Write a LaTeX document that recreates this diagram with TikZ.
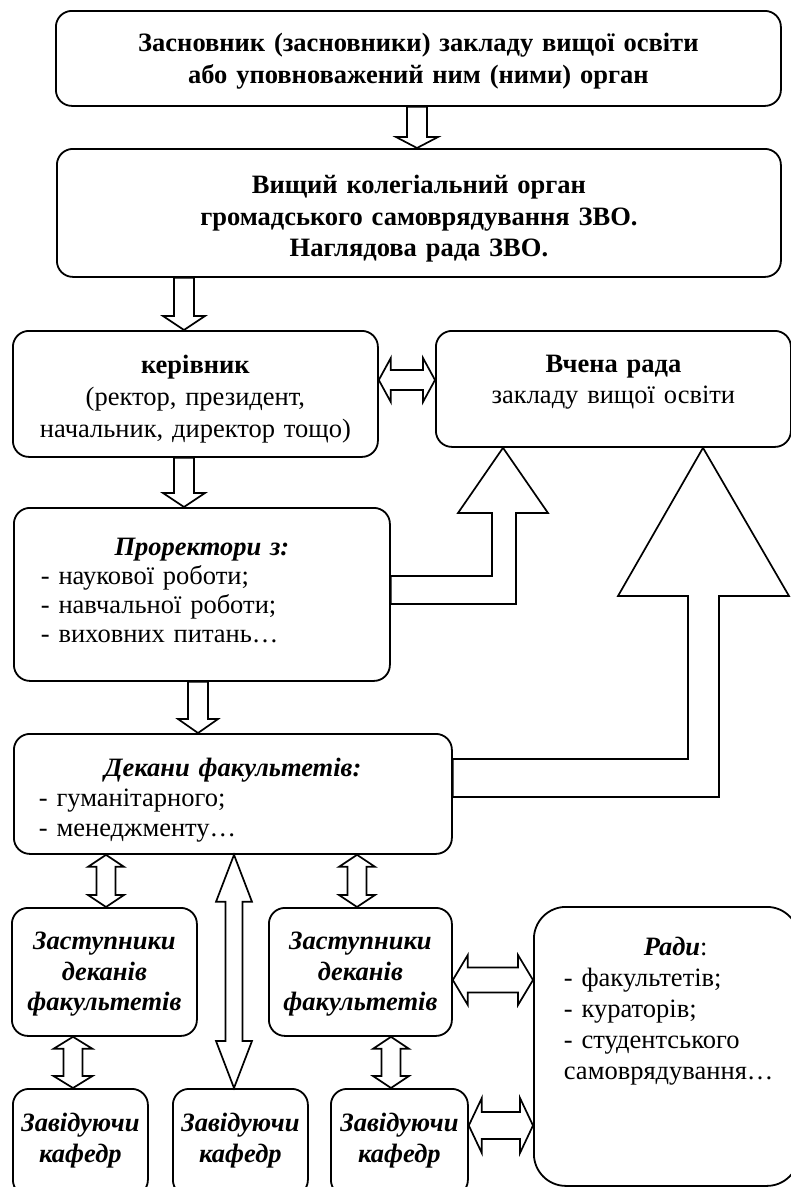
\documentclass[tikz,border=0pt]{standalone}
\usepackage{fontspec}
\setmainfont{Liberation Serif}
\usepackage{tikz}
\usetikzlibrary{calc}

% hollow block arrows: x or y, from, to, shaft half, head half, head length
\newcommand{\blockdown}[6]{%
  \draw[blk] let \p1=(#2.south), \p2=(#3.north) in
    (#1-#4,\y1) -- (#1+#4,\y1) -- (#1+#4,\y2+#6) -- (#1+#5,\y2+#6)
    -- (#1,\y2) -- (#1-#5,\y2+#6) -- (#1-#4,\y2+#6) -- cycle;}
\newcommand{\blockvv}[6]{%
  \draw[blk] let \p1=(#2.south), \p2=(#3.north) in
    (#1,\y1) -- (#1+#5,\y1-#6) -- (#1+#4,\y1-#6) -- (#1+#4,\y2+#6)
    -- (#1+#5,\y2+#6) -- (#1,\y2) -- (#1-#5,\y2+#6) -- (#1-#4,\y2+#6)
    -- (#1-#4,\y1-#6) -- (#1-#5,\y1-#6) -- cycle;}
\newcommand{\blockhh}[6]{%
  \draw[blk] let \p1=(#2.east), \p2=(#3.west) in
    (\x1,#1) -- (\x1+#6,#1+#5) -- (\x1+#6,#1+#4) -- (\x2-#6,#1+#4)
    -- (\x2-#6,#1+#5) -- (\x2,#1) -- (\x2-#6,#1-#5) -- (\x2-#6,#1-#4)
    -- (\x1+#6,#1-#4) -- (\x1+#6,#1-#5) -- cycle;}

\begin{document}
\begin{tikzpicture}[x=1pt,y=1pt,font=\fontsize{26.5}{31}\selectfont,
    box/.style={draw,rounded corners=16pt,line width=1.8pt,inner sep=0pt,
                align=center,anchor=north west},
    blk/.style={draw,fill=white,line width=1.7pt,line join=miter},
    bi/.style={font=\fontsize{26.5}{30.5}\selectfont\bfseries\itshape}]
  \useasboundingbox (0,0) rectangle (791,-1187);
  \clip (0,0) rectangle (791,-1187);

  \node[box,text width=725pt,text height=41pt,text depth=54pt,
        font=\fontsize{26.5}{32}\selectfont\bfseries]
    (founder) at (55,-10)
    {Засновник (засновники) закладу вищої освіти\\або уповноважений ним (ними) орган};
  \node[box,text width=724pt,text height=45pt,text depth=83pt,
        font=\fontsize{26.5}{31.5}\selectfont\bfseries]
    (council) at (56,-148)
    {Вищий колегіальний орган\\громадського самоврядування ЗВО.\\Наглядова рада ЗВО.};
  \node[box,text width=365pt,text height=43pt,text depth=83pt,
        font=\fontsize{26.5}{32}\selectfont]
    (head) at (12,-330)
    {\textbf{керівник}\\(ректор, президент,\\начальник, директор тощо)};
  \node[box,text width=355pt,text height=42pt,text depth=74pt]
    (senate) at (435,-330) {\textbf{Вчена рада}\\закладу вищої освіти};
  \node[box,align=left,text width=322pt,inner xsep=27pt,
        text height=48pt,text depth=125pt,font=\fontsize{26.5}{29}\selectfont]
    (vice) at (13,-507)
    {\makebox[\linewidth]{\textbf{\textit{Проректори з:}}}\\- наукової роботи;\\
     - навчальної роботи;\\- виховних питань…};
  \node[box,align=left,text width=388pt,inner xsep=25pt,
        text height=43pt,text depth=77pt,font=\fontsize{26.5}{30}\selectfont]
    (deans) at (13,-733)
    {\makebox[\linewidth]{\textbf{\textit{Декани факультетів:}}}\\- гуманітарного;\\- менеджменту…};

  \node[box,bi,text width=185pt,text height=42pt,text depth=86pt]
    (dep1) at (11,-907) {Заступники\\деканів\\факультетів};
  \node[box,bi,text width=183pt,text height=42pt,text depth=86pt]
    (dep2) at (268,-907) {Заступники\\деканів\\факультетів};
  \node[box,align=left,rounded corners=32pt,text width=205pt,inner xsep=30pt,
        text height=49pt,text depth=230pt]
    (rady) at (533,-906)
    {\hspace*{80pt}\textbf{\textit{Ради}}:\\- факультетів;\\- кураторів;\\- студентського\\самоврядування…};

  \node[box,bi,text width=135pt,text height=43pt,text depth=64pt]
    (chair1) at (12,-1088) {Завідуючи\\кафедр};
  \node[box,bi,text width=135pt,text height=43pt,text depth=64pt]
    (chair2) at (172,-1088) {Завідуючи\\кафедр};
  \node[box,bi,text width=137pt,text height=43pt,text depth=64pt]
    (chair3) at (330,-1088) {Завідуючи\\кафедр};

  % arrows down the chain
  \blockdown{417}{founder}{council}{10}{21}{11}
  \blockdown{184}{council}{head}{10}{21}{14}
  \blockdown{184}{head}{vice}{10}{21}{14}
  \blockdown{198}{vice}{deans}{10}{20}{14}
  \blockhh{-380}{head}{senate}{10}{22}{12}

  % bent arrows into the senate
  \draw[blk] let \p1=(vice.east), \p2=(senate.south) in
    (\x1,-576) -- (492,-576) -- (492,-513) -- (458,-513) -- (503,\y2)
    -- (548,-513) -- (516,-513) -- (516,-604) -- (\x1,-604) -- cycle;
  \draw[blk] let \p1=(deans.east), \p2=(senate.south) in
    (\x1,-759) -- (688,-759) -- (688,-596) -- (618,-596) -- (703,\y2)
    -- (789,-596) -- (719,-596) -- (719,-797) -- (\x1,-797) -- cycle;

  % faculty level
  \blockvv{106}{deans}{dep1}{9.5}{18}{12}
  \blockvv{357}{deans}{dep2}{9.5}{18}{12}
  \blockvv{234}{deans}{chair2}{8.5}{18}{47}
  \blockvv{73}{dep1}{chair1}{9.5}{19.5}{12}
  \blockvv{391}{dep2}{chair3}{9.5}{18}{12}
  \blockhh{-980}{dep2}{rady}{12.5}{25}{15}
  \blockhh{-1125.5}{chair3}{rady}{13.5}{27.5}{13}
\end{tikzpicture}
\end{document}
